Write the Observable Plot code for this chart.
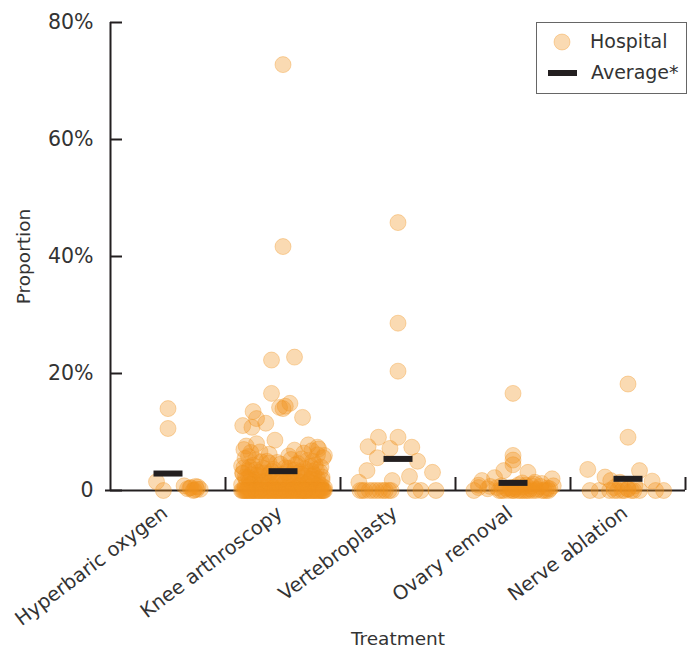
<!DOCTYPE html>
<html><head><meta charset="utf-8">
<script src="https://cdn.jsdelivr.net/npm/d3@7"></script>
<script src="https://cdn.jsdelivr.net/npm/@observablehq/plot@0.6"></script>
<style>
body{margin:0;background:#fff;}
#wrap{position:relative;width:691px;height:649px;font-family:"DejaVu Sans",sans-serif;color:#333;}
#legend{position:absolute;left:536px;top:22px;}
</style></head><body><div id="wrap"></div>
<script>
// ---- data (values in %, second number = horizontal jitter within the category, in category units)
const categories = ["Hyperbaric oxygen", "Knee arthroscopy", "Vertebroplasty", "Ovary removal", "Nerve ablation"];
const averages = [2.9, 3.3, 5.4, 1.3, 2.0];
const yTicks = [0, 0.2, 0.4, 0.6, 0.8];
const categoryEdges = [0.5, 1.5, 2.5, 3.5, 4.5];

const hyperbaricPoints = [[14.0, 0], [10.6, 0], [1.5, -0.10], [0, -0.04], [0.8, 0.14], [0.3, 0.17], [0.5, 0.20], [0.1, 0.23], [0.6, 0.26], [0.2, 0.28],
  [0.4, 0.19], [0.0, 0.22], [0.7, 0.24], [0.2, 0.25]];

const kneePoints = [
  [72.8, 0.00], [41.7, 0.00], [22.3, -0.10], [22.8, 0.10], [16.6, -0.10], [14.9, 0.06], [14.2, -0.03], [14.0, 0.00], [14.4, 0.02],
  [13.5, -0.26], [12.5, 0.17], [12.3, -0.23], [11.5, -0.15], [11.1, -0.35], [10.8, -0.27], [8.6, -0.07], [8.0, -0.23], [7.4, 0.30], [6.0, 0.36],
  [7.0, -0.34], [6.5, -0.28], [6.8, 0.25], [7.1, 0.31], [6.2, -0.12], [5.9, 0.05], [6.4, 0.18], [6.6, -0.20],
  [7.6, -0.32], [6.9, 0.10], [7.8, 0.22], [6.1, 0.30], [5.8, -0.30], [5.4, 0.16],
  [5.5, -0.33], [5.2, -0.24], [5.0, -0.14], [4.8, -0.05], [5.3, 0.07], [4.6, 0.13], [5.1, 0.21], [4.4, 0.28], [5.6, 0.35], [4.2, -0.36],
  [4.0, -0.29], [3.8, -0.17], [3.6, -0.08], [3.9, 0.02], [3.5, 0.10], [3.7, 0.19], [3.3, 0.25], [3.2, 0.32], [4.5, -0.02], [3.1, -0.21],
  [4.7, -0.12], [4.3, -0.26], [4.1, 0.24], [3.8, 0.05], [3.3, -0.10], [3.4, -0.30], [3.0, -0.16], [2.8, 0.00], [3.2, 0.15], [3.6, 0.29], [3.0, -0.35],
  [2.9, -0.35], [2.7, -0.28], [2.5, -0.20], [2.8, -0.12], [2.6, -0.04], [2.4, 0.05], [2.9, 0.12], [2.2, 0.20], [2.7, 0.27], [2.3, 0.34],
  [2.6, -0.22], [2.4, -0.09], [2.1, 0.06], [2.5, 0.18], [2.0, 0.30], [2.2, -0.30], [2.7, 0.07],
  [2.0, -0.32], [1.8, -0.24], [1.6, -0.15], [1.9, -0.07], [1.5, 0.02], [1.7, 0.09], [1.4, 0.17], [1.9, 0.24], [1.2, 0.31],
  [1.8, -0.02], [1.6, 0.13], [1.3, 0.26], [1.5, -0.18], [1.2, -0.05], [1.1, 0.20], [0.9, 0.33], [1.4, -0.26],
  [1.0, -0.36], [1.1, -0.28], [0.9, -0.19], [0.8, -0.10], [1.0, 0.00], [0.7, 0.08], [0.9, 0.15], [0.6, 0.22], [0.8, 0.30], [0.5, 0.36],
  [0.4, -0.25], [0.4, 0.11], [0.7, -0.33], [0.6, -0.14], [0.5, 0.04], [0.4, 0.18], [0.3, 0.28], [0.3, -0.20], [0.2, -0.07], [0.2, 0.09],
  [2.3, -0.33], [2.1, -0.17], [1.7, -0.29], [1.3, -0.12], [1.1, 0.04], [1.5, 0.22], [1.8, 0.34], [2.4, 0.25], [2.8, 0.16], [3.1, 0.03],
  [3.5, -0.24], [3.9, -0.34], [4.0, 0.33], [4.4, 0.11], [4.9, -0.19], [5.0, 0.26], [0.6, -0.30], [0.5, -0.08], [0.7, 0.13], [0.4, 0.33],
  [0, -0.36], [0, -0.33], [0, -0.30], [0, -0.27], [0, -0.25], [0, -0.22], [0, -0.19], [0, -0.17], [0, -0.14], [0, -0.11],
  [0, -0.09], [0, -0.06], [0, -0.03], [0, -0.01], [0, 0.02], [0, 0.04], [0, 0.07], [0, 0.10], [0, 0.12], [0, 0.15],
  [0, 0.18], [0, 0.20], [0, 0.23], [0, 0.26], [0, 0.28], [0, 0.31], [0, 0.34], [0, 0.36], [0, -0.32], [0, -0.18],
  [0, -0.08], [0, 0.00], [0, 0.08], [0, 0.16], [0, 0.24], [0, 0.33], [0, -0.26], [0, -0.12], [0, 0.05], [0, 0.21],
  [0, 0.35], [0, -0.04], [0, 0.13], [0, -0.35], [0, -0.29], [0, -0.23], [0, -0.16], [0, -0.10], [0, -0.05], [0, 0.01],
  [0, 0.06], [0, 0.11], [0, 0.17], [0, 0.22], [0, 0.27], [0, 0.32], [0, -0.20], [0, -0.13], [0, -0.02], [0, 0.09],
  [0, 0.19], [0, 0.29], [0, -0.31], [0, -0.34], [0, -0.28], [0, -0.21], [0, -0.15], [0, -0.07], [0, 0.03], [0, 0.14],
  [0, 0.25], [0, 0.30], [0, 0.35], [0, -0.24], [0, 0.18]
];

const vertebroplastyPoints = [
  [45.8, 0], [28.6, 0], [20.4, 0], [9.1, -0.17], [9.1, 0], [7.5, -0.26], [7.2, -0.07], [7.4, 0.12], [5.6, -0.18], [5.0, 0.17],
  [3.4, -0.27], [3.1, 0.30], [2.4, 0.10], [1.4, -0.34], [1.7, -0.05],
  [0, -0.33], [0, -0.29], [0, -0.22], [0, -0.16], [0, -0.11], [0, -0.06], [0, 0.15], [0, 0.20], [0, 0.33],
  [0, -0.31], [0, -0.25], [0, -0.19], [0, -0.13], [0, -0.08]
];

const ovaryPoints = [
  [16.6, 0], [6.0, 0], [5.2, 0], [4.4, 0], [3.4, -0.08], [3.1, 0.13], [2.2, -0.16], [1.7, -0.27], [2.0, 0.34], [0.9, -0.30],
  [1.2, 0.25], [0.8, 0.35], [0, -0.12], [0, -0.08], [0, -0.04], [0, 0], [0, 0.04], [0, 0.08], [0, 0.12], [0, 0.17],
  [0.3, -0.22], [0.5, -0.30], [0.2, 0.21], [0.4, 0.30], [0, -0.34], [0.6, 0.09], [0.5, -0.02], [1.0, 0.05], [0.8, -0.10], [0, 0.25],
  [0.3, 0.15], [0.2, 0.02], [0, 0.29], [1.4, 0.19], [0.7, -0.20],
  [0, -0.10], [0, 0.00], [0, 0.06], [0, 0.10], [0, 0.14], [0, 0.20], [0, 0.27], [0.4, -0.06], [0.6, 0.02], [0.9, 0.11],
  [1.1, 0.18], [0.7, 0.24], [0.3, 0.32], [0.5, -0.14], [1.3, 0.08], [0.2, -0.02], [0, 0.31], [0.8, 0.16]
];

const nervePoints = [
  [18.2, 0], [9.1, 0], [3.6, -0.35], [3.4, 0.10], [2.3, -0.20], [1.6, 0.21], [1.7, -0.15], [1.4, -0.07],
  [0, -0.33], [0, -0.25], [0, -0.16], [0, -0.09], [0, -0.03], [0, 0.03], [0, 0.10], [0, 0.24], [0, 0.31],
  [0.5, -0.12], [0.3, 0.00], [0.8, 0.06], [0, -0.12], [0, -0.05], [0.2, 0.00], [0, 0.05]
];

const seriesPoints = [hyperbaricPoints, kneePoints, vertebroplastyPoints, ovaryPoints, nervePoints];
const hospitals = seriesPoints.flatMap((pts, c) => pts.map(([v, j]) => ({x: c + j, y: v / 100})));
const avgRows = averages.map((v, i) => ({x: i, y: v / 100}));

// ---- styles
const ink = "#231f20";
const textColor = "#333";
const orange = "#F0921E";
const barSymbol = {draw(context) { context.rect(-14.5, -3, 29, 6); }};

const chart = Plot.plot({
  width: 691, height: 649,
  marginLeft: 110, marginRight: 6, marginTop: 22, marginBottom: 159,
  style: {fontFamily: "DejaVu Sans", color: textColor, background: "white", overflow: "visible"},
  x: {domain: [-0.5, 4.5], axis: null},
  y: {domain: [0, 0.8], axis: null},
  marks: [
    Plot.ruleY([0], {stroke: ink, strokeWidth: 2, insetLeft: -5}),
    Plot.ruleX([-0.5], {stroke: ink, strokeWidth: 2}),
    Plot.axisY(yTicks, {tickSize: -12, tickPadding: 29, tickFormat: d => d === 0 ? "0" : d3.format(".0%")(d),
      fontSize: 20.5, stroke: ink, strokeWidth: 2, fill: textColor, label: null}),
    Plot.axisX(categoryEdges, {tickSize: -13, tickFormat: () => "", stroke: ink, strokeWidth: 2, label: null}),
    Plot.dot(hospitals, {x: "x", y: "y", r: 8, fill: orange, fillOpacity: 0.34, stroke: orange, strokeOpacity: 0.34, strokeWidth: 1}),
    Plot.dot(avgRows, {x: "x", y: "y", symbol: barSymbol, fill: ink, stroke: null}),
    Plot.text(categories, {x: (d, i) => i, frameAnchor: "bottom", rotate: -37, textAnchor: "end", lineAnchor: "middle",
      dx: -3, dy: 20, fontSize: 19.5, fill: textColor}),
    Plot.text(["Proportion"], {frameAnchor: "left", rotate: -90, textAnchor: "middle", lineAnchor: "middle", dx: -86, fontSize: 18.5, fill: textColor}),
    Plot.text(["Treatment"], {frameAnchor: "bottom", textAnchor: "middle", lineAnchor: "middle", dy: 149, fontSize: 18.5, fill: textColor})
  ]
});

const wrap = document.getElementById("wrap");
wrap.appendChild(chart);

// ---- legend (overlaid inside the plot, top right)
const legend = d3.create("svg").attr("id", "legend").attr("width", 152).attr("height", 73)
  .style("font-family", "DejaVu Sans").style("overflow", "visible");
legend.append("rect").attr("x", 0.5).attr("y", 0.5).attr("width", 150).attr("height", 71)
  .attr("fill", "white").attr("stroke", "#666").attr("stroke-width", 1);
legend.append("circle").attr("cx", 26).attr("cy", 20).attr("r", 8)
  .attr("fill", orange).attr("fill-opacity", 0.34).attr("stroke", orange).attr("stroke-opacity", 0.34);
legend.append("text").attr("x", 54).attr("y", 26).attr("font-size", 19).attr("fill", textColor).text("Hospital");
legend.append("rect").attr("x", 12).attr("y", 48).attr("width", 29).attr("height", 6).attr("fill", ink);
legend.append("text").attr("x", 55).attr("y", 57).attr("font-size", 19).attr("fill", textColor).text("Average*");
wrap.appendChild(legend.node());
</script></body></html>
